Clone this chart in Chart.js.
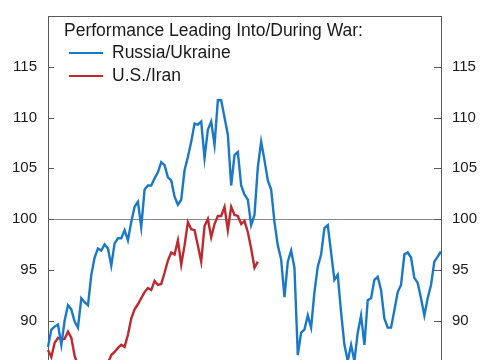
<!DOCTYPE html>
<html>
<head>
<meta charset="utf-8">
<script src="https://cdn.jsdelivr.net/npm/chart.js@4/dist/chart.umd.min.js"></script>
<style>
  html, body { margin: 0; padding: 0; background: #fff; overflow: hidden; }
  #wrap { width: 485px; height: 360px; overflow: hidden; }
  canvas { display: block; margin-top: -4px; }
</style>
</head>
<body>
<div id="wrap"><canvas id="c" width="485" height="446"></canvas></div>
<script>
// ---- Data (index-rebased performance) ----
const legendTitle = 'Performance Leading Into/During War:';
const seriesNames = ['Russia/Ukraine', 'U.S./Iran'];
const seriesColors = ['#1a78c8', '#c0282f'];

const russiaUkraine = [
  87.4, 89.1, 89.4, 89.6, 87.6, 90.0, 91.5, 91.1, 89.9, 89.3,
  92.2, 91.8, 91.5, 94.5, 96.2, 97.1, 96.9, 97.5, 97.1, 95.4,
  97.6, 98.1, 98.1, 98.9, 97.9, 99.7, 101.2, 101.7, 99.2, 102.9,
  103.3, 103.3, 104.0, 104.6, 105.6, 105.3, 104.1, 103.8, 102.2, 101.4,
  101.9, 104.8, 106.1, 107.6, 109.4, 109.3, 109.6, 106.0, 108.8, 109.6,
  107.3, 111.7, 111.7, 110.0, 108.3, 103.3, 106.3, 106.6, 103.3, 102.4,
  101.9, 99.4, 100.4, 105.1, 107.6, 105.8, 103.8, 102.9, 99.7, 97.4,
  96.0, 92.3, 95.8, 96.9, 95.2, 86.6, 88.8, 89.1, 90.5, 89.3,
  92.8, 95.3, 96.5, 99.1, 99.4, 96.7, 94.0, 94.5, 90.8, 87.6,
  86.0, 87.6, 86.0, 88.8, 90.5, 87.6, 92.0, 92.2, 94.0, 94.3,
  93.0, 90.2, 89.3, 89.3, 91.0, 92.8, 93.5, 96.5, 96.7, 96.2,
  94.2, 93.7, 92.2, 90.5, 92.2, 93.5, 95.8, 96.3, 96.8
];

const usIran = [
  87.1, 86.4, 87.8, 88.3, 88.1, 88.2, 88.9, 88.3, 86.5, 85.6,
  85.3, 85.5, 85.0, 84.8, 85.2, 85.0, 85.4, 85.3, 85.8, 86.6,
  86.9, 87.3, 87.6, 87.4, 88.6, 90.2, 91.1, 91.6, 92.2, 92.8,
  93.2, 93.0, 93.9, 93.5, 93.6, 94.7, 95.9, 96.7, 96.5, 97.9,
  95.5, 97.4, 99.7, 99.0, 98.9, 97.4, 95.8, 99.3, 100.0, 98.2,
  99.5, 100.3, 100.3, 101.2, 98.9, 101.2, 100.4, 100.3, 99.5, 99.8,
  98.7, 97.1, 95.2, 95.8
];

const tradingDays = russiaUkraine.map((_, i) => i);
const yTicks = [80, 85, 90, 95, 100, 105, 110, 115, 120];
const hiddenTickLabels = [120];

// ---- Plugins ----
const framePlugin = {
  id: 'frame',
  afterDatasetsDraw(chart) {
    const { ctx, chartArea: a, scales } = chart;
    ctx.save();
    ctx.strokeStyle = '#5a5a5a';
    ctx.lineWidth = 1;
    ctx.beginPath();
    ctx.moveTo(a.left, a.top + 0.5);
    ctx.lineTo(a.right, a.top + 0.5);
    ctx.stroke();
    scales.y.ticks.forEach(t => {
      if (hiddenTickLabels.includes(t.value)) return;
      const y = Math.round(scales.y.getPixelForValue(t.value)) + 0.5;
      ctx.beginPath();
      ctx.moveTo(a.left, y); ctx.lineTo(a.left + 6, y);
      ctx.moveTo(a.right - 7, y); ctx.lineTo(a.right, y);
      ctx.stroke();
    });
    ctx.restore();
  },
  afterDraw(chart) {
    const { ctx, chartArea: a } = chart;
    ctx.save();
    ctx.font = '17.5px "Liberation Sans", Arial, sans-serif';
    ctx.fillStyle = '#1a1a1a';
    ctx.textBaseline = 'middle';
    ctx.textAlign = 'left';
    const top = a.top;
    ctx.fillText(legendTitle, 64, top + 15);
    const rows = [top + 37, top + 60];
    chart.data.datasets.forEach((ds, i) => {
      const y = rows[i];
      ctx.strokeStyle = ds.borderColor;
      ctx.lineWidth = 2;
      ctx.beginPath();
      ctx.moveTo(69, y); ctx.lineTo(103, y);
      ctx.stroke();
      ctx.fillText(ds.label, 112, y);
    });
    ctx.restore();
  }
};

const tickFont = { family: '"Liberation Sans", Arial, sans-serif', size: 15 };
const tickLabel = v => hiddenTickLabels.includes(v) ? '' : String(v);

new Chart(document.getElementById('c'), {
  type: 'line',
  data: {
    labels: tradingDays,
    datasets: [
      { label: seriesNames[0], data: russiaUkraine, borderColor: seriesColors[0],
        borderWidth: 2.4, pointRadius: 0, tension: 0, yAxisID: 'y' },
      { label: seriesNames[1], data: usIran, borderColor: seriesColors[1],
        borderWidth: 2.4, pointRadius: 0, tension: 0, yAxisID: 'y' }
    ]
  },
  options: {
    responsive: false,
    animation: false,
    layout: { padding: { top: 12, bottom: 8, left: 0, right: 0 } },
    plugins: { legend: { display: false }, tooltip: { enabled: false } },
    scales: {
      x: { type: 'category', display: false, offset: false },
      y: {
        position: 'left', min: 80, max: 120,
        afterBuildTicks: s => { s.ticks = yTicks.map(v => ({ value: v })); },
        afterFit: s => { s.width = 48; },
        ticks: { font: tickFont, color: '#1a1a1a', padding: 11, callback: tickLabel },
        grid: {
          drawTicks: false,
          color: c => (c.tick && c.tick.value === 100) ? '#8a8a8a' : 'rgba(0,0,0,0)',
          lineWidth: 1
        },
        border: { display: true, color: '#5a5a5a', width: 1 }
      },
      y2: {
        position: 'right', min: 80, max: 120,
        afterBuildTicks: s => { s.ticks = yTicks.map(v => ({ value: v })); },
        afterFit: s => { s.width = 44; },
        ticks: { font: tickFont, color: '#1a1a1a', padding: 11, callback: tickLabel },
        grid: { display: false, drawTicks: false },
        border: { display: true, color: '#5a5a5a', width: 1 }
      }
    }
  },
  plugins: [framePlugin]
});
</script>
</body>
</html>
